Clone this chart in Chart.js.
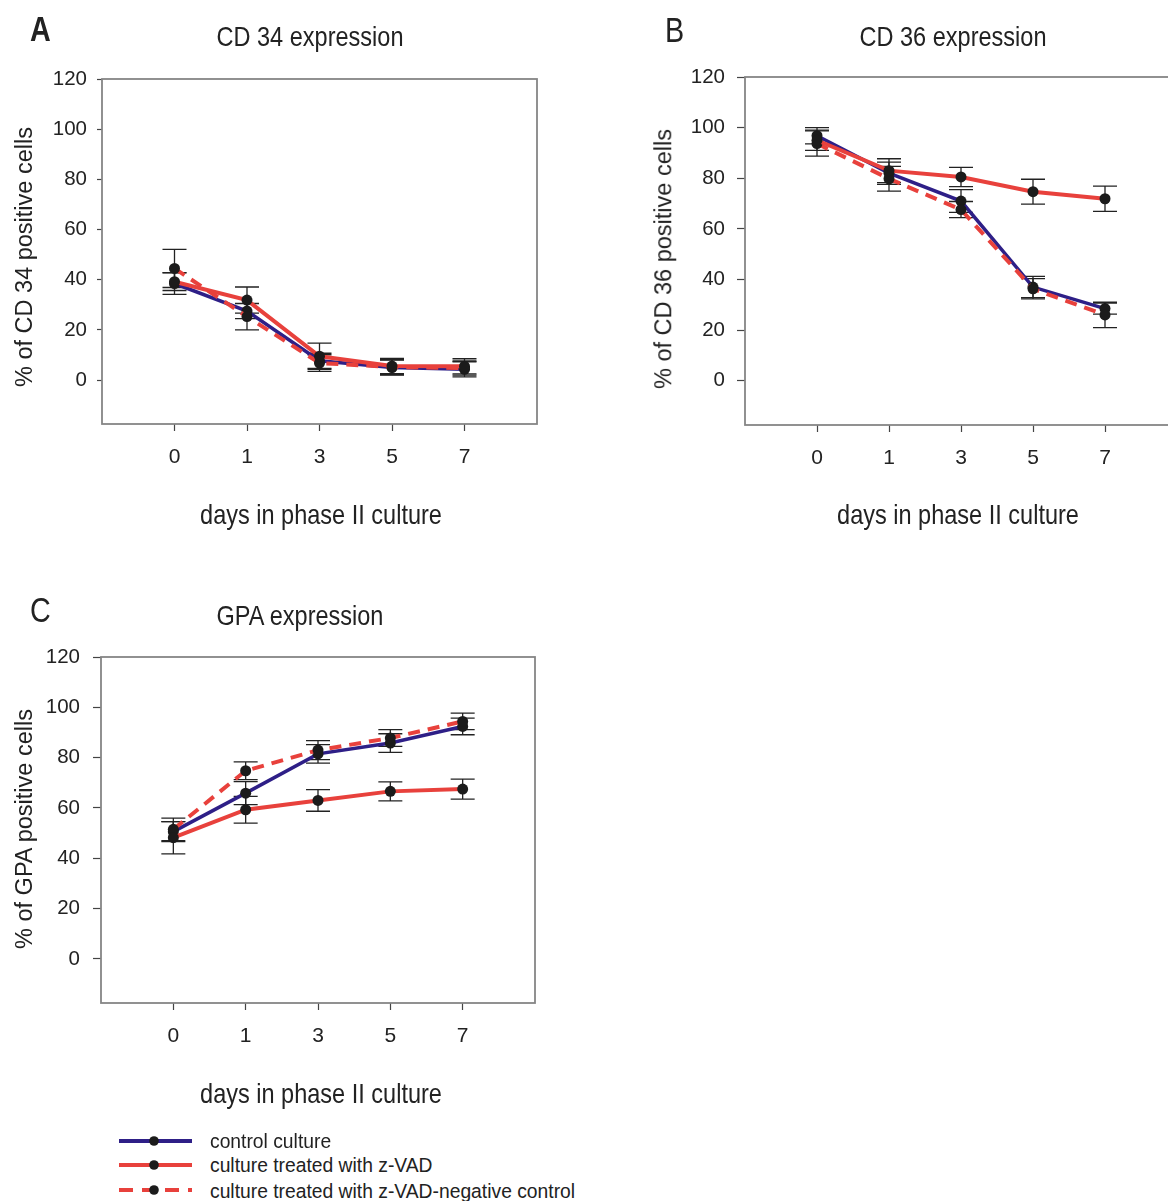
<!DOCTYPE html>
<html>
<head>
<meta charset="utf-8">
<script src="https://cdn.jsdelivr.net/npm/chart.js@4.4.1/dist/chart.umd.min.js"></script>
<style>
  html, body { margin:0; padding:0; background:#fff; }
  body { width:1168px; height:1201px; overflow:hidden; position:relative; }
  canvas { position:absolute; }
  .t { position:absolute; font-family:"Liberation Sans",Arial,sans-serif; color:#222; white-space:nowrap; line-height:1; }
  .ttl { font-size:28px; transform:translateX(-50%) scaleX(0.84); transform-origin:50% 50%; }
  .yt { font-size:23.5px; transform:translate(-50%,-50%) rotate(-90deg); transform-origin:50% 50%; }
  .letter { font-size:35px; transform:scaleX(0.82); transform-origin:0 0; }
  .leg { position:absolute; font-family:"Liberation Sans",Arial,sans-serif; font-size:19.3px; line-height:19px; color:#222; white-space:nowrap; }
</style>
</head>
<body>
<canvas id="cA" width="560" height="540" style="left:0;top:0"></canvas>
<canvas id="cB" width="560" height="540" style="left:638px;top:0"></canvas>
<canvas id="cC" width="560" height="540" style="left:0;top:580px"></canvas>

<div class="t letter" id="lA" style="left:30px;top:11px;font-weight:bold">A</div>
<div class="t letter" id="lB" style="left:665px;top:12px">B</div>
<div class="t letter" id="lC" style="left:30px;top:592px">C</div>
<div class="t ttl" id="tA" style="left:310px;top:23px"></div>
<div class="t ttl" id="tB" style="left:953px;top:23px"></div>
<div class="t ttl" id="tC" style="left:300px;top:602px"></div>
<div class="t ttl" id="xA" style="left:321px;top:501px"></div>
<div class="t ttl" id="xB" style="left:958px;top:501px"></div>
<div class="t ttl" id="xC" style="left:321px;top:1080px"></div>
<div class="t yt" id="yA" style="left:25px;top:257px"></div>
<div class="t yt" id="yB" style="left:664px;top:259px"></div>
<div class="t yt" id="yC" style="left:25px;top:829px"></div>

<svg id="legsvg" width="210" height="81" style="position:absolute;left:0;top:1120px"></svg>
<div class="leg" id="leg0" style="left:210px;top:1132px"></div>
<div class="leg" id="leg1" style="left:210px;top:1156px"></div>
<div class="leg" id="leg2" style="left:210px;top:1182px"></div>

<script>
// ---------- data ----------
const days = ['0', '1', '3', '5', '7'];
const yTicks = [0, 20, 40, 60, 80, 100, 120];
const seriesNames = ['control culture', 'culture treated with z-VAD', 'culture treated with z-VAD-negative control'];
const panelLetters = ['A', 'B', 'C'];
const panelTitles = ['CD 34 expression', 'CD 36 expression', 'GPA expression'];
const yTitles = ['% of CD 34 positive cells', '% of CD 36 positive cells', '% of GPA positive cells'];
const xTitle = 'days in phase II culture';

// CD 34
const cd34Control    = [38.5, 27.5, 7.7, 5.0, 4.3];
const cd34ControlErr = [4.3, 3.0, 3.0, 3.0, 3.0];
const cd34Zvad       = [39.2, 31.9, 9.5, 5.6, 5.5];
const cd34ZvadErr    = [3.5, 5.2, 5.2, 3.0, 3.0];
const cd34Neg        = [44.5, 25.3, 6.8, 5.2, 4.8];
const cd34NegErr     = [7.6, 5.3, 3.3, 3.0, 2.8];

// CD 36
const cd36Control    = [96.8, 82.0, 71.0, 37.0, 28.5];
const cd36ControlErr = [3.2, 4.4, 4.5, 4.2, 2.2];
const cd36Zvad       = [95.0, 83.0, 80.5, 74.7, 71.9];
const cd36ZvadErr    = [4.0, 4.7, 3.8, 4.9, 5.0];
const cd36Neg        = [93.7, 79.8, 67.6, 36.3, 26.0];
const cd36NegErr     = [5.0, 4.9, 3.2, 4.0, 5.0];

// GPA
const gpaControl    = [50.6, 65.9, 81.5, 85.8, 92.4];
const gpaControlErr = [4.0, 4.6, 3.7, 3.7, 3.3];
const gpaZvad       = [48.2, 59.3, 63.0, 66.6, 67.5];
const gpaZvadErr    = [6.4, 5.3, 4.3, 3.8, 4.0];
const gpaNeg        = [51.5, 74.8, 83.0, 87.8, 94.4];
const gpaNegErr     = [4.5, 3.5, 3.8, 3.3, 3.3];

// ---------- styles ----------
const BLUE = '#2e1f87';
const RED = '#e8413c';
const DOT = '#1b1b1b';
const TXT = '#222';
const AXIS = '#858585';
const SANS = '"Liberation Sans", Arial, sans-serif';

Chart.defaults.font.family = SANS;

const boxPlugin = {
  id: 'box',
  beforeDatasetsDraw(chart) {
    const a = chart.chartArea, ctx = chart.ctx;
    ctx.save();
    ctx.strokeStyle = AXIS;
    ctx.lineWidth = 1.8;
    ctx.strokeRect(a.left, a.top, a.right - a.left, a.bottom - a.top);
    ctx.restore();
  }
};

const errPlugin = {
  id: 'err',
  beforeDatasetsDraw(chart) {
    const ctx = chart.ctx, xs = chart.scales.x, ys = chart.scales.y;
    ctx.save();
    ctx.strokeStyle = '#222';
    ctx.lineWidth = 1.3;
    chart.data.datasets.forEach(ds => {
      ds.errors.forEach((e, i) => {
        const v = ds.data[i].y;
        const px = xs.getPixelForValue(ds.data[i].x);
        const t = ys.getPixelForValue(v + e), b = ys.getPixelForValue(v - e);
        ctx.beginPath();
        ctx.moveTo(px, t); ctx.lineTo(px, b);
        ctx.moveTo(px - 12, t); ctx.lineTo(px + 12, t);
        ctx.moveTo(px - 12, b); ctx.lineTo(px + 12, b);
        ctx.stroke();
      });
    });
    ctx.restore();
  }
};

function series(label, vals, errs, color, dash, order, width) {
  return {
    label, order,
    data: vals.map((v, i) => ({ x: i, y: v })),
    errors: errs,
    borderColor: color,
    borderWidth: width,
    borderDash: dash,
    tension: 0,
    pointRadius: 5.5,
    pointBackgroundColor: DOT,
    pointBorderWidth: 0,
    clip: false
  };
}

function makeChart(id, c) {
  return new Chart(document.getElementById(id), {
    type: 'line',
    data: {
      datasets: [
        series(seriesNames[0], c.control, c.controlErr, BLUE, [], 3, 3.5),
        series(seriesNames[1], c.zvad, c.zvadErr, RED, [], 1, 4),
        series(seriesNames[2], c.neg, c.negErr, RED, [12, 8], 2, 4)
      ]
    },
    options: {
      responsive: false,
      animation: false,
      devicePixelRatio: 1,
      layout: { padding: c.pad },
      plugins: { legend: { display: false }, tooltip: { enabled: false } },
      scales: {
        x: {
          type: 'linear', min: -1, max: 5,
          afterFit: s => { s.height = c.xh; },
          afterBuildTicks: s => { s.ticks = days.map((d, i) => ({ value: i })); },
          ticks: { callback: v => days[v], font: { size: 21 }, color: TXT, padding: 14, maxRotation: 0, autoSkip: false },
          grid: { drawOnChartArea: false, tickLength: 7, tickColor: '#444', tickWidth: 1.2 },
          border: { display: false },
          title: { display: false }
        },
        y: {
          min: -17.5, max: 120,
          afterFit: s => { s.width = c.yw; },
          afterBuildTicks: s => { s.ticks = yTicks.map(v => ({ value: v })); },
          ticks: { font: { size: 20.5 }, color: TXT, padding: c.ypad, autoSkip: false },
          grid: { drawOnChartArea: false, tickLength: c.ytl, tickColor: '#444', tickWidth: 1.2 },
          border: { display: false },
          title: { display: false }
        }
      }
    },
    plugins: [boxPlugin, errPlugin]
  });
}

makeChart('cA', {
  control: cd34Control, controlErr: cd34ControlErr, zvad: cd34Zvad, zvadErr: cd34ZvadErr, neg: cd34Neg, negErr: cd34NegErr,
  pad: { top: 79, right: 23, left: 0, bottom: 0 }, yw: 102, xh: 116, ytl: 5, ypad: 10
});
makeChart('cB', {
  control: cd36Control, controlErr: cd36ControlErr, zvad: cd36Zvad, zvadErr: cd36ZvadErr, neg: cd36Neg, negErr: cd36NegErr,
  pad: { top: 77, right: 21, left: 0, bottom: 0 }, yw: 107, xh: 115, ytl: 8, ypad: 12
});
makeChart('cC', {
  control: gpaControl, controlErr: gpaControlErr, zvad: gpaZvad, zvadErr: gpaZvadErr, neg: gpaNeg, negErr: gpaNegErr,
  pad: { top: 77, right: 25, left: 0, bottom: 0 }, yw: 101, xh: 117, ytl: 8, ypad: 13
});

// titles / letters
['A', 'B', 'C'].forEach((k, i) => {
  document.getElementById('l' + k).textContent = panelLetters[i];
  document.getElementById('t' + k).textContent = panelTitles[i];
  document.getElementById('x' + k).textContent = xTitle;
  document.getElementById('y' + k).textContent = yTitles[i];
});

// legend
(function () {
  const svg = document.getElementById('legsvg');
  const ys = [21, 45, 70];
  const colors = [BLUE, RED, RED];
  const dashes = ['', '', '14 9'];
  let s = '';
  ys.forEach((y, i) => {
    s += `<line x1="119" y1="${y}" x2="192" y2="${y}" stroke="${colors[i]}" stroke-width="4" ${dashes[i] ? `stroke-dasharray="${dashes[i]}"` : ''}/>`;
    s += `<circle cx="154" cy="${y}" r="4.8" fill="${DOT}"/>`;
  });
  svg.innerHTML = s;
  seriesNames.forEach((n, i) => { document.getElementById('leg' + i).textContent = n; });
})();
</script>
</body>
</html>
